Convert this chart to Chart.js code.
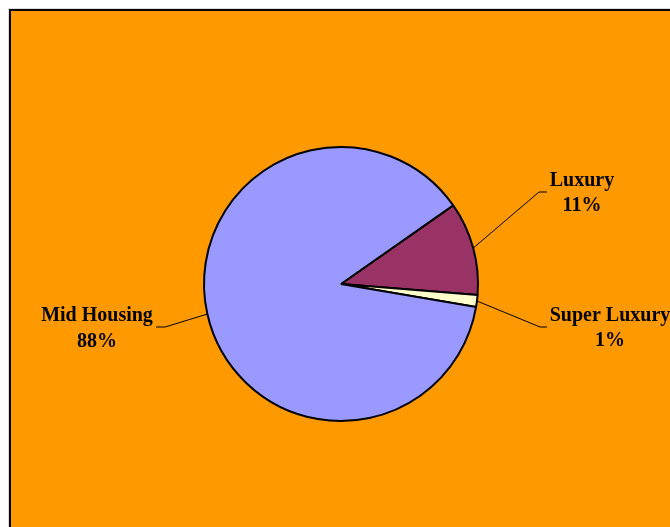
<!DOCTYPE html>
<html>
<head>
<meta charset="utf-8">
<script src="https://cdn.jsdelivr.net/npm/chart.js@4/dist/chart.umd.min.js"></script>
<style>
  html, body { margin: 0; padding: 0; background: #fff; }
  #frame {
    position: absolute; left: 9px; top: 9px; width: 700px; height: 560px;
    background: #FF9900; border-left: 2px solid #000; border-top: 2px solid #000;
    box-shadow: -1px -1px 0 #ddd;
  }
  #wrap { position: absolute; left: 0; top: 0; width: 670px; height: 527px; }
</style>
</head>
<body>
<div id="frame"></div>
<div id="wrap"><canvas id="pie" width="670" height="527"></canvas></div>
<script>
// data
const categories = ['Luxury', 'Super Luxury', 'Mid Housing'];
const shares = [11.0, 1.4, 87.6];
const sliceColors = ['#993366', '#FFFFCC', '#9999FF'];

// callout layout: elbow point, end of leader, text centre and baselines
const callouts = [
  { elbow: [539, 192], end: [547, 192], tx: 582, ty: [186, 211] },
  { elbow: [540, 327], end: [547, 327], tx: 610, ty: [321, 346] },
  { elbow: [165, 327], end: [156, 327], tx: 97, ty: [321, 347] }
];

const total = shares.reduce((a, b) => a + b, 0);

// 画标签和引导线
const calloutPlugin = {
  id: 'callouts',
  afterDraw(chart) {
    const ctx = chart.ctx;
    const meta = chart.getDatasetMeta(0);
    ctx.save();
    meta.data.forEach((arc, i) => {
      const p = arc.getProps(['x', 'y', 'startAngle', 'endAngle', 'outerRadius'], true);
      const mid = (p.startAngle + p.endAngle) / 2;
      const sx = p.x + Math.cos(mid) * p.outerRadius;
      const sy = p.y + Math.sin(mid) * p.outerRadius;
      const c = callouts[i];
      ctx.strokeStyle = '#000';
      ctx.lineWidth = 1;
      ctx.beginPath();
      ctx.moveTo(sx, sy);
      ctx.lineTo(c.elbow[0], c.elbow[1]);
      ctx.lineTo(c.end[0], c.end[1]);
      ctx.stroke();

      ctx.fillStyle = '#000';
      ctx.font = "bold 20px 'Liberation Serif', 'Times New Roman', serif";
      ctx.textAlign = 'center';
      ctx.textBaseline = 'alphabetic';
      ctx.fillText(categories[i], c.tx, c.ty[0]);
      ctx.fillText(Math.round(shares[i] / total * 100) + '%', c.tx, c.ty[1]);
    });
    ctx.restore();
  }
};

new Chart(document.getElementById('pie'), {
  type: 'pie',
  data: {
    labels: categories,
    datasets: [{
      data: shares,
      backgroundColor: sliceColors,
      borderColor: '#000',
      borderWidth: 2
    }]
  },
  options: {
    responsive: false,
    maintainAspectRatio: false,
    animation: false,
    rotation: 55,
    layout: { padding: { left: 203, right: 191, top: 146, bottom: 105 } },
    plugins: {
      legend: { display: false },
      tooltip: { enabled: false }
    }
  },
  plugins: [calloutPlugin]
});
</script>
</body>
</html>
